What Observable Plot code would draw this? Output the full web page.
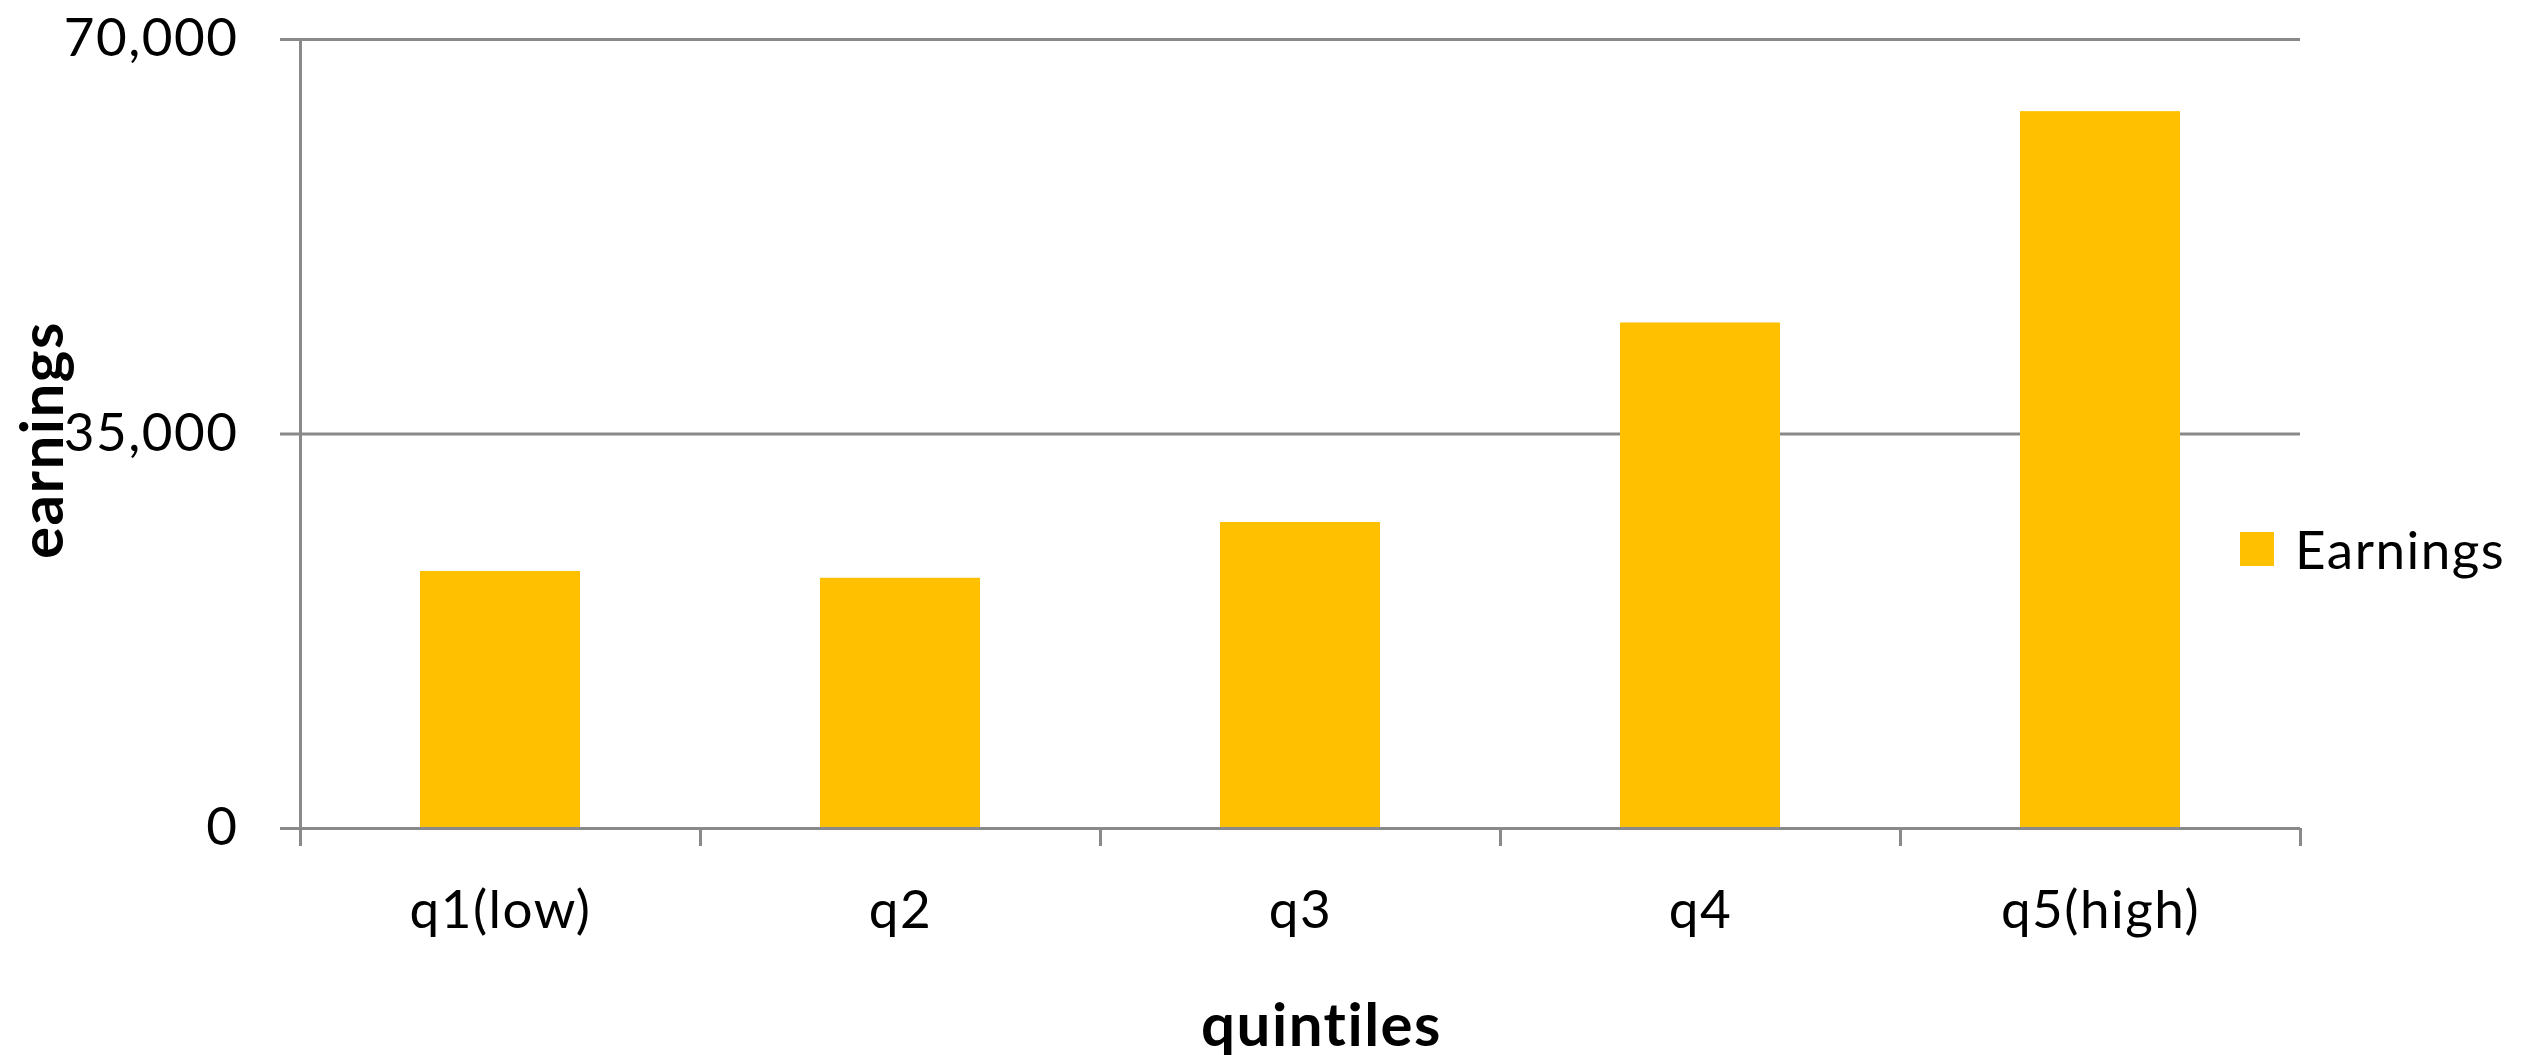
<!DOCTYPE html>
<html>
<head>
<meta charset="utf-8">
<script src="https://cdn.jsdelivr.net/npm/d3@7"></script>
<script src="https://cdn.jsdelivr.net/npm/@observablehq/plot@0.6"></script>
<style>
  html, body { margin: 0; padding: 0; background: #ffffff; overflow: hidden; }
  #chart { position: relative; width: 2539px; height: 1055px; font-family: Lato, "Open Sans", sans-serif; }
  #chart svg { position: absolute; left: 0; top: 0; }
  #chart svg text { letter-spacing: 1.5px; }
  g[aria-label="y-axis label"] text,
  g[aria-label="x-axis label"] text { font-weight: bold; font-size: 60px; letter-spacing: 0.5px; }
  #legend { position: absolute; left: 2240px; top: 517px; display: flex; align-items: center; font-size: 53px; line-height: 1.2; color: #000; letter-spacing: 1.5px; }
  #legend .sw { width: 34px; height: 34px; margin-right: 21px; }
</style>
</head>
<body>
<div id="chart"></div>
<script>
// ---- data ----
const categories = ["q1(low)", "q2", "q3", "q4", "q5(high)"];
const earnings = [22800, 22200, 27150, 44850, 63600];
const yTicks = [0, 35000, 70000];
const seriesName = "Earnings";
const yTitle = "earnings";
const xTitle = "quintiles";

// ---- style / layout ----
const W = 2539, H = 1055;
const mL = 300, mR = 239, mT = 39, mB = 227;
const barColor = "#FFC000";
const lineColor = "#898989";

const data = categories.map((c, i) => ({quintile: c, value: earnings[i]}));

const xOpts = {type: "band", domain: categories, paddingInner: 0.6, paddingOuter: 0.3};
const xs = Plot.scale({x: {...xOpts, range: [mL, W - mR]}});
const step = xs.step ?? (xs.bandwidth / (1 - 0.6));

const chart = Plot.plot({
  width: W,
  height: H,
  marginLeft: mL,
  marginRight: mR,
  marginTop: mT,
  marginBottom: mB,
  style: {fontFamily: "Lato, 'Open Sans', sans-serif", fontSize: "53px", background: "transparent", overflow: "visible", color: "#000"},
  x: xOpts,
  y: {domain: [yTicks[0], yTicks[yTicks.length - 1]]},
  marks: [
    Plot.ruleY(yTicks, {stroke: lineColor, strokeWidth: 3}),
    Plot.barY(data, {x: "quintile", y: "value", fill: barColor}),
    Plot.ruleY([0], {stroke: lineColor, strokeWidth: 3}),
    Plot.frame({anchor: "left", stroke: lineColor, strokeWidth: 3}),
    Plot.axisY(yTicks, {
      tickSize: 20, tickPadding: 42, tickFormat: d3.format(","),
      stroke: lineColor, strokeWidth: 3, fontSize: 53, fill: "#000",
      label: yTitle, labelAnchor: "center", labelOffset: 280, labelArrow: "none"
    }),
    Plot.axisX({
      tickSize: 0, tickPadding: 62, fontSize: 53, fill: "#000",
      label: xTitle, labelAnchor: "center", labelOffset: 217, labelArrow: "none"
    }),
    Plot.axisX(categories, {
      tickSize: 18, tickFormat: () => "", stroke: lineColor, strokeWidth: 3,
      dx: -step / 2, label: null
    }),
    Plot.axisX([categories[categories.length - 1]], {
      tickSize: 18, tickFormat: () => "", stroke: lineColor, strokeWidth: 3,
      dx: step / 2, label: null
    })
  ]
});

const root = document.getElementById("chart");
root.appendChild(chart);

// small nudges of the axis titles to match the reference placement
function nudge(sel, dx, dy) {
  const g = chart.querySelector(sel);
  if (g) g.setAttribute("transform", ((g.getAttribute("transform") || "") + ` translate(${dx},${dy})`).trim());
}
nudge('g[aria-label="x-axis label"]', 21, 0);
nudge('g[aria-label="y-axis label"]', 0, 6);

const legend = document.createElement("div");
legend.id = "legend";
const sw = document.createElement("div");
sw.className = "sw";
sw.style.background = barColor;
const lab = document.createElement("span");
lab.textContent = seriesName;
legend.appendChild(sw);
legend.appendChild(lab);
root.appendChild(legend);
</script>
</body>
</html>
